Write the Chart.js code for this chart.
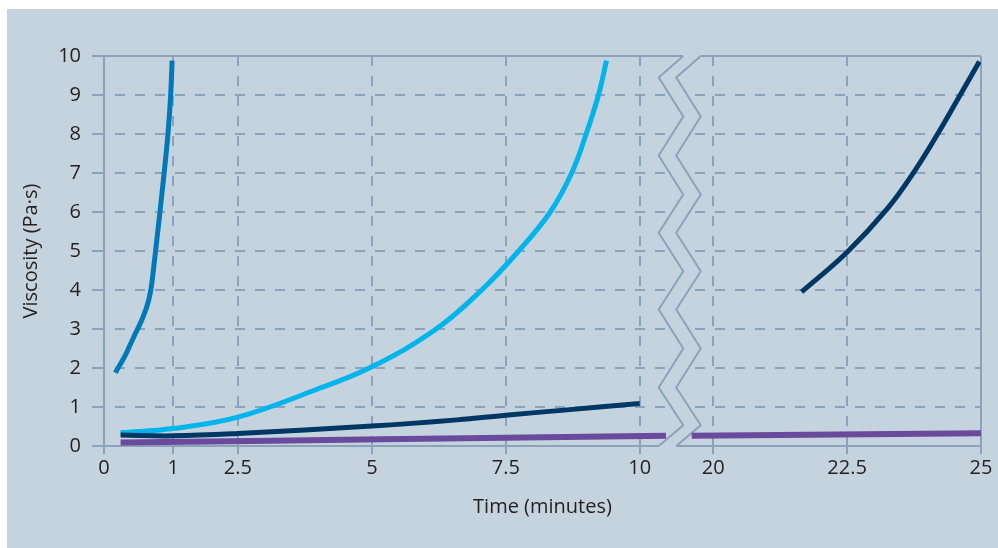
<!DOCTYPE html>
<html>
<head>
<meta charset="utf-8">
<script src="https://cdn.jsdelivr.net/npm/chart.js@4.4.0/dist/chart.umd.min.js"></script>
<style>
html,body{margin:0;padding:0;background:#ffffff;}
canvas{display:block;}
</style>
</head>
<body>
<canvas id="c" width="998" height="548"></canvas>
<script>
// ---------- data ----------
const xTickMinutes = [0, 1, 2.5, 5, 7.5, 10, 20, 22.5, 25];
const xTickLabels  = ['0', '1', '2.5', '5', '7.5', '10', '20', '22.5', '25'];
const yTickValues  = [0, 1, 2, 3, 4, 5, 6, 7, 8, 9, 10];

// fast-curing (medium blue)
const fastTime = [0.164, 0.309, 0.429, 0.551, 0.647, 0.686, 0.746, 0.810, 0.870, 0.925, 0.965, 0.986];
const fastVisc = [1.88, 2.33, 2.79, 3.25, 3.74, 4.10, 5.00, 6.00, 7.00, 8.00, 9.00, 9.88];

// medium (light blue)
const mediumTime = [0.24, 1.0, 2.5, 3.93, 5.0, 6.2, 7.05, 7.74, 8.33, 8.73, 9.0, 9.23, 9.38];
const mediumVisc = [0.34, 0.45, 0.74, 1.43, 2.03, 3.0, 4.0, 5.0, 6.0, 7.0, 8.0, 9.0, 9.88];

// slow (navy), two visible parts
const slowTimeA = [0.24, 1.0, 2.5, 5.0, 6.59, 7.5, 8.59, 10.0];
const slowViscA = [0.28, 0.26, 0.32, 0.51, 0.67, 0.79, 0.92, 1.09];
const slowTimeB = [21.65, 22.5, 23.26, 23.76, 24.19, 24.59, 24.97];
const slowViscB = [3.95, 4.97, 6.10, 7.05, 8.00, 8.95, 9.86];

// very slow (purple), broken at the axis gap
const baseTime = [0.24, 5.2, 10.49, 15, 19.6, 25];
const baseVisc = [0.09, 0.17, 0.26, null, 0.26, 0.33];

// ---------- broken-axis mapping (layout, not data) ----------
function toAxis(t) {
  if (t <= 1) return t * 1.29;
  if (t <= 2.5) return 1.29 + (t - 1) * (2.5 - 1.29) / 1.5;
  if (t <= 15) return t;
  return t - 8.63;
}
function pts(ts, vs) { return ts.map((t, i) => ({ x: toAxis(t), y: vs[i] })); }

const BG = '#c5d3de';
const GRID = '#8ba3ba';
const TEXT = '#231f20';

const bgPlugin = {
  id: 'bg',
  beforeDraw(chart) {
    const c = chart.ctx;
    c.save();
    c.fillStyle = '#ffffff';
    c.fillRect(0, 0, chart.width, chart.height);
    c.fillStyle = BG;
    c.fillRect(7, 9, chart.width - 7, chart.height - 9);
    c.restore();
  }
};

const breakPlugin = {
  id: 'axisBreak',
  beforeDatasetsDraw(chart) {
    const xs = chart.scales.x, ys = chart.scales.y, c = chart.ctx;
    const x10 = xs.getPixelForValue(toAxis(10));
    const lines = [[x10 + 19, x10 + 43.5], [x10 + 36.5, x10 + 61]];
    const yv = [10, 9.45, 8.45, 7.45, 6.45, 5.47, 4.48, 3.5, 2.5, 1.5, 0.53, 0];
    const mk = (lr) => yv.map((v, i) => [i % 2 === 0 ? lr[1] : lr[0], ys.getPixelForValue(v)]);
    const L = mk(lines[0]);
    const R = mk(lines[1]);
    c.save();
    c.beginPath();
    c.moveTo(L[0][0], L[0][1] - 3);
    L.forEach(p => c.lineTo(p[0], p[1]));
    c.lineTo(L[L.length - 1][0], L[L.length - 1][1] + 3);
    c.lineTo(R[R.length - 1][0], R[R.length - 1][1] + 3);
    for (let i = R.length - 1; i >= 0; i--) c.lineTo(R[i][0], R[i][1]);
    c.lineTo(R[0][0], R[0][1] - 3);
    c.closePath();
    c.fillStyle = BG;
    c.fill();
    c.strokeStyle = GRID;
    c.lineWidth = 2;
    c.lineJoin = 'miter';
    [L, R].forEach(P => {
      c.beginPath();
      P.forEach((p, i) => i ? c.lineTo(p[0], p[1]) : c.moveTo(p[0], p[1]));
      c.stroke();
    });
    c.restore();
  }
};

Chart.defaults.font.family = "'Open Sans', 'Noto Sans', sans-serif";
Chart.defaults.font.size = 20;
Chart.defaults.color = TEXT;

const lineDs = (label, data, color, width, mono) => ({
  label, data, borderColor: color, backgroundColor: color, borderWidth: width,
  pointRadius: 0, pointHoverRadius: 0, fill: false, spanGaps: false,
  cubicInterpolationMode: mono ? 'monotone' : 'default', tension: 0.4, borderCapStyle: 'butt'
});

new Chart(document.getElementById('c'), {
  type: 'line',
  data: {
    datasets: [
      lineDs('Slow', pts(slowTimeA, slowViscA), '#003764', 5, false),
      lineDs('Slow (late)', pts(slowTimeB, slowViscB), '#003764', 5, false),
      lineDs('Medium', pts(mediumTime, mediumVisc), '#00b4ec', 5, false),
      lineDs('Very slow', pts(baseTime, baseVisc), '#6a4a9d', 6, false),
      lineDs('Fast', pts(fastTime, fastVisc), '#0079b8', 5, true)
    ]
  },
  options: {
    responsive: false,
    animation: false,
    devicePixelRatio: 1,
    layout: { padding: { left: 0, top: 56, right: 17, bottom: 0 } },
    plugins: { legend: { display: false }, tooltip: { enabled: false } },
    scales: {
      x: {
        type: 'linear',
        min: 0,
        max: toAxis(25),
        afterFit: s => { s.height = 102; },
        afterBuildTicks: s => { s.ticks = xTickMinutes.map(t => ({ value: toAxis(t) })); },
        ticks: {
          autoSkip: false, maxRotation: 0, minRotation: 0, padding: 2, color: TEXT,
          callback: (v, i) => xTickLabels[i]
        },
        grid: { color: GRID, lineWidth: 2, tickLength: 8, tickColor: GRID, tickWidth: 2, tickBorderDash: [] },
        border: {
          display: true, color: GRID, width: 2,
          dash: ctx => (ctx.type !== 'tick' || ctx.index === 0 || ctx.index === xTickMinutes.length - 1) ? [] : [10, 10],
          dashOffset: 0
        },
        title: { display: true, text: 'Time (minutes)', color: TEXT, font: { size: 20 }, padding: { top: 0, bottom: 29 } }
      },
      y: {
        type: 'linear',
        min: 0,
        max: 10,
        afterFit: s => { s.width = 104; },
        afterBuildTicks: s => { s.ticks = yTickValues.map(v => ({ value: v })); },
        ticks: { padding: 11, color: TEXT, callback: v => String(v) },
        grid: { color: GRID, lineWidth: 2, tickLength: 12, tickColor: GRID, tickWidth: 2, tickBorderDash: [] },
        border: {
          display: true, color: GRID, width: 2,
          dash: ctx => (ctx.type !== 'tick' || ctx.index === 0 || ctx.index === yTickValues.length - 1) ? [] : [10, 10],
          dashOffset: 10
        },
        title: { display: true, text: 'Viscosity (Pa·s)', color: TEXT, font: { size: 20 }, padding: { top: 19, bottom: 0 } }
      }
    }
  },
  plugins: [bgPlugin, breakPlugin]
});
</script>
</body>
</html>
